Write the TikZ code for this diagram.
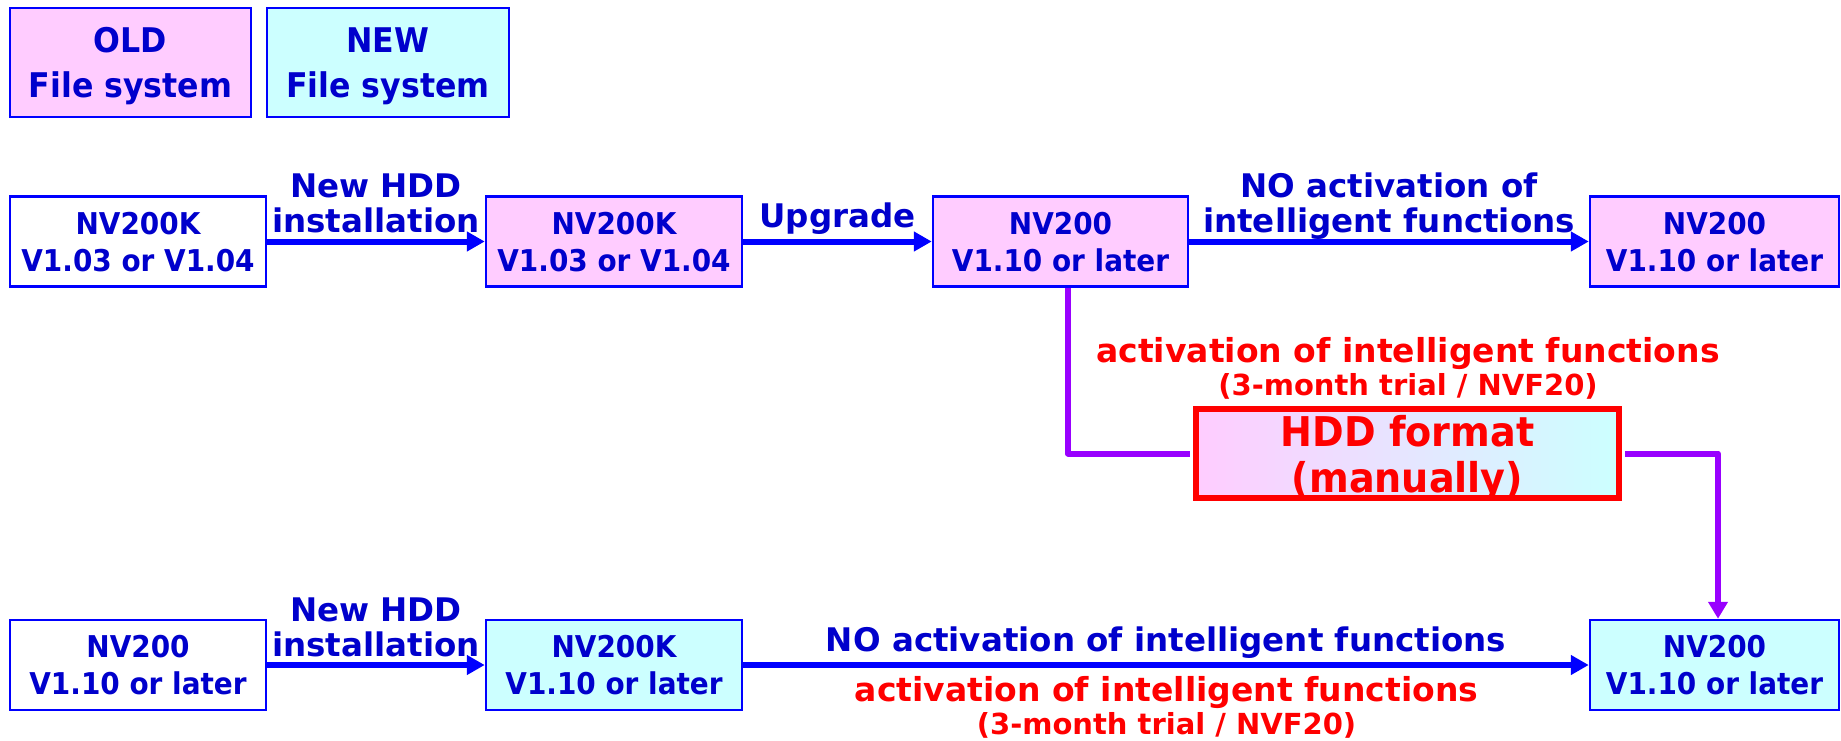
\documentclass[tikz,border=0pt]{standalone}
\usepackage{fontspec}
\setmainfont{DejaVu Sans}
\newfontfamily\boxf{DejaVu Sans}[FakeStretch=0.93]
\usetikzlibrary{arrows.meta}
\definecolor{pinkf}{HTML}{FFCCFF}
\definecolor{cyanf}{HTML}{CCFFFF}
\definecolor{bord}{HTML}{0000FF}
\definecolor{txtb}{HTML}{0000CC}
\definecolor{redc}{HTML}{FF0000}
\definecolor{purp}{HTML}{9900FF}
\begin{document}
\begin{tikzpicture}[x=1pt,y=-1pt,
  fsbox/.style={draw=bord, line width=2.5pt, text=txtb, align=center, inner sep=0pt,
    minimum height=90pt, text depth=0pt, font=\boxf\bfseries\fontsize{30}{37}\selectfont},
  legbox/.style={fsbox, minimum height=109pt, font=\boxf\bfseries\fontsize{34}{45}\selectfont},
  hddbox/.style={draw=redc, line width=6pt, left color=pinkf, right color=cyanf, text=redc,
    align=center, inner sep=0pt, text depth=0pt, minimum width=423pt, minimum height=89pt,
    font=\boxf\bfseries\fontsize{41}{46}\selectfont},
  lblb/.style={text=txtb, align=center, inner sep=0pt, text depth=0pt,
    font=\bfseries\fontsize{32.5}{35}\selectfont},
  lblr/.style={text=redc, align=center, inner sep=0pt, text depth=0pt,
    font=\bfseries\fontsize{33}{33}\selectfont},
  barrow/.style={draw=bord, line width=6pt, -{Triangle[length=18pt,width=19pt]}},
  parrow/.style={draw=purp, line width=6pt, line join=round}
]
\useasboundingbox (0,0) rectangle (1841,740);

% legend
\node[legbox, fill=pinkf, minimum width=241pt] (old) at (130.5,62.5) {OLD\\File system};
\node[legbox, fill=cyanf, minimum width=242pt] (new) at (388,62.5) {NEW\\File system};

% row 1
\node[fsbox, fill=white, minimum width=256pt] (a1) at (138,241.5) {NV200K\\V1.03 or V1.04};
\node[fsbox, fill=pinkf, minimum width=256pt] (b1) at (614,241.5) {NV200K\\V1.03 or V1.04};
\node[fsbox, fill=pinkf, minimum width=255pt] (c1) at (1060.5,241.5) {NV200\\V1.10 or later};
\node[fsbox, fill=pinkf, minimum width=249pt] (d1) at (1714.5,241.5) {NV200\\V1.10 or later};

% row 2
\node[fsbox, fill=white, minimum width=256pt] (a2) at (138,665) {NV200\\V1.10 or later};
\node[fsbox, fill=cyanf, minimum width=256pt] (b2) at (614,665) {NV200K\\V1.10 or later};
\node[fsbox, fill=cyanf, minimum width=249pt] (d2) at (1714.5,665) {NV200\\V1.10 or later};

% HDD format
\node[hddbox] (hdd) at (1407.5,453.5) {HDD format\\(manually)};

% connectors
\draw[barrow] (a1) -- (b1);
\draw[barrow] (b1) -- (c1);
\draw[barrow] (c1) -- (d1);
\draw[barrow] (a2) -- (b2);
\draw[barrow] (b2) -- (d2);
\draw[parrow, shorten >=3pt] ([xshift=7.5pt]c1.south) |- (hdd.west);
\draw[parrow, shorten <=3pt, -{Triangle[length=17pt,width=19pt]}] (hdd.east) -| ([xshift=3.5pt]d2.north);

% labels
\node[lblb, anchor=south] (l1) at (376,233) {New HDD\\installation};
\node[lblb, anchor=base] (l2) at (837.5,227) {Upgrade};
\node[lblb, anchor=south] (l3) at (1389,233) {NO activation of\\intelligent functions};
\node[lblr, anchor=south] (l4) at (1408,396) {activation of intelligent functions\\{\fontsize{29}{33}\selectfont (3-month trial / NVF20)}};
\node[lblb, anchor=south] (l5) at (376,657) {New HDD\\installation};
\node[lblb, anchor=base] (l6) at (1166,651) {NO activation of intelligent functions};
\node[lblr, anchor=south] (l7) at (1166.5,735) {activation of intelligent functions\\{\fontsize{29}{33}\selectfont (3-month trial / NVF20)}};
\end{tikzpicture}
\end{document}
